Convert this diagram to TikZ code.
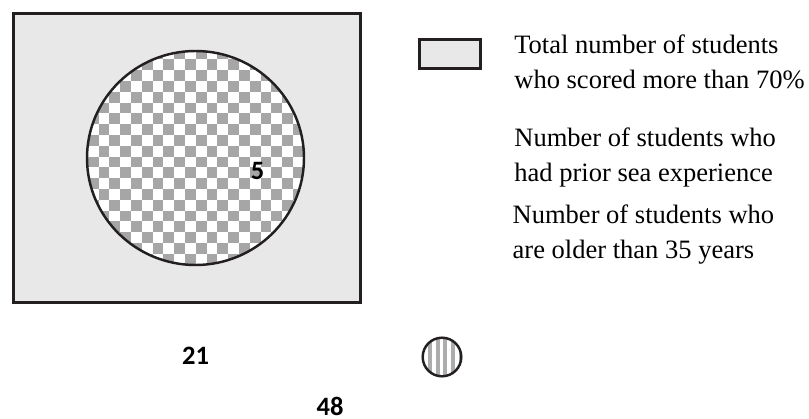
\documentclass[tikz,border=0pt]{standalone}
\usepackage{fontspec}
\setmainfont{Liberation Serif}
\newfontfamily\numfont{Carlito}
\definecolor{panel}{HTML}{E8E8E8}
\definecolor{chk}{HTML}{A6A6A6}
\definecolor{stripe}{HTML}{ACACAC}
\definecolor{edge}{HTML}{231F20}
\tikzset{
  outline/.style={draw=edge,line width=1.4pt},
  legendtext/.style={anchor=base west,inner sep=0pt,align=left,
    font=\fontsize{15.1}{19.9}\selectfont},
  count/.style={inner sep=0pt,font=\numfont\bfseries\fontsize{15.1}{18}\selectfont},
}
\begin{document}
\begin{tikzpicture}[x=0.02cm,y=-0.02cm]
  % 1単位 = 元画像の1px
  \def\sq{10.8}
  \useasboundingbox (0,0) rectangle (809,419);
  % 70%超の学生全体
  \filldraw[outline,fill=panel] (13.5,13.5) rectangle (360.5,302.5);
  % 市松模様の円 (海上経験あり)
  \begin{scope}
    \clip (195.5,158) ellipse [x radius=108.5,y radius=107];
    \fill[white] (80,40) rectangle (310,280);
    \foreach \i in {0,...,10}
      \foreach \j in {0,...,11} {
        \fill[chk] ({76.9+2*\i*\sq},{37.7+2*\j*\sq}) rectangle +(\sq,\sq);
        \fill[chk] ({76.9+(2*\i+1)*\sq},{37.7+(2*\j+1)*\sq}) rectangle +(\sq,\sq);
      }
  \end{scope}
  \draw[outline] (195.5,158) ellipse [x radius=108.5,y radius=107];
  \node[count] (five) at (257.5,170.5) {5};
  \node[count] (twentyone) at (195.5,356) {21};
  \node[count] (fortyeight) at (330,406.5) {48};
  % 凡例 (baseは2行目の位置)
  \filldraw[outline,fill=panel] (419.5,39.5) rectangle (480.5,68.5);
  \node[legendtext] (total) at (514,88.3) {Total number of students\\who scored more than 70\%};
  \node[legendtext] (sea) at (514,181.7) {Number of students who\\had prior sea experience};
  \node[legendtext] (older) at (512.3,258.3) {Number of students who\\are older than 35 years};
  % 縦縞の小円
  \begin{scope}
    \clip (442,357) circle [radius=20];
    \fill[white] (420,335) rectangle (464,379);
    \foreach \x in {428,435.7,443.4,451.1,458.8}
      \fill[stripe] (\x,335) rectangle +(3.8,44);
  \end{scope}
  \draw[outline] (442,357) circle [radius=19.3];
\end{tikzpicture}
\end{document}
